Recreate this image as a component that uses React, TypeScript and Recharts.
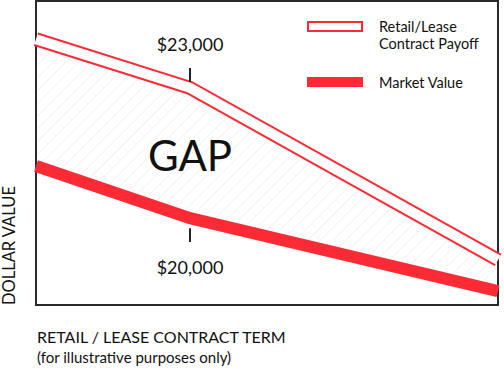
import React from "react";
import {
    Area,
    ComposedChart,
    Line,
    ReferenceArea,
    ReferenceDot,
    ReferenceLine,
    XAxis,
    YAxis,
} from "recharts";

const RED = "#fb2b36";
const FONT = "Lato, 'Open Sans', sans-serif";

// contract term (illustrative), dollar values
const terms = [0, 1, 3];
const payoff = [24120, 23000, 19040];
const marketValue = [21200, 20000, 18320];

const tickLabels = [
    { value: "$23,000", at: 24000, tick: [23140, 23460] },
    { value: "$20,000", at: 18850, tick: [19450, 19770] },
];

const data = terms.map((t, i) => ({
    term: t,
    payoff: payoff[i],
    market: marketValue[i],
    gap: [marketValue[i], payoff[i]],
}));

const LegendBox: React.FC = () => (
    <div style={{ position: "absolute", left: 307, top: 18, width: 190, fontFamily: FONT, fontSize: 14.5, color: "#111", lineHeight: "17px" }}>
        <div style={{ display: "flex", alignItems: "flex-start" }}>
            <div style={{ width: 52, height: 7, border: `2px solid ${RED}`, marginTop: 3, marginRight: 16 }} />
            <div>
                <div>Retail/Lease</div>
                <div>Contract Payoff</div>
            </div>
        </div>
        <div style={{ display: "flex", alignItems: "flex-start", marginTop: 22 }}>
            <div style={{ width: 56, height: 10, background: RED, marginTop: 3, marginRight: 16 }} />
            <div>Market Value</div>
        </div>
    </div>
);

const App: React.FC = () => {
    return (
        <div style={{ position: "absolute", left: 0, top: 0, width: 504, height: 371, background: "#fff" }}>
            <ComposedChart width={504} height={371} data={data} margin={{ top: 1, right: 6, bottom: 66, left: 36 }}>
                <defs>
                    <pattern id="hatch" width="9" height="9" patternUnits="userSpaceOnUse" patternTransform="rotate(45)">
                        <line x1="0" y1="0" x2="0" y2="9" stroke="#e8e8e8" strokeWidth={1} />
                    </pattern>
                </defs>
                <XAxis dataKey="term" type="number" domain={[0, 3]} hide />
                <YAxis type="number" domain={[18000, 25000]} hide />
                <Area
                    dataKey="gap"
                    type="linear"
                    stroke="none"
                    fill="url(#hatch)"
                    fillOpacity={1}
                    isAnimationActive={false}
                    activeDot={false}
                />
                <Line dataKey="payoff" type="linear" stroke={RED} strokeWidth={14} dot={false} activeDot={false} isAnimationActive={false} />
                <Line dataKey="payoff" type="linear" stroke="#fff" strokeWidth={10} dot={false} activeDot={false} isAnimationActive={false} />
                <Line dataKey="market" type="linear" stroke={RED} strokeWidth={12} dot={false} activeDot={false} isAnimationActive={false} />
                {tickLabels.map((t) => (
                    <ReferenceLine
                        key={t.value}
                        segment={[{ x: 1, y: t.tick[0] }, { x: 1, y: t.tick[1] }]}
                        stroke="#222"
                        strokeWidth={2}
                    />
                ))}
                {tickLabels.map((t) => (
                    <ReferenceDot
                        key={t.value + "l"}
                        x={1}
                        y={t.at}
                        r={0}
                        stroke="none"
                        label={{ value: t.value, position: "center", fontSize: 18, fill: "#111", fontFamily: FONT }}
                    />
                ))}
                <ReferenceDot
                    x={1}
                    y={21420}
                    r={0}
                    stroke="none"
                    label={{ value: "GAP", position: "center", fontSize: 42, fill: "#111", fontFamily: FONT }}
                />
                <ReferenceArea x1={0} x2={3} y1={18000} y2={25000} fill="none" stroke="#2a2a2a" strokeWidth={2} />
            </ComposedChart>
            <LegendBox />
            <div
                style={{
                    position: "absolute",
                    left: 0,
                    top: 305,
                    transform: "rotate(-90deg)",
                    transformOrigin: "0 0",
                    fontFamily: FONT,
                    fontSize: 16.5,
                    color: "#111",
                    whiteSpace: "nowrap",
                    lineHeight: "18px",
                }}
            >
                DOLLAR VALUE
            </div>
            <div style={{ position: "absolute", left: 37, top: 327, fontFamily: FONT, fontSize: 16, color: "#111", lineHeight: "20px", whiteSpace: "nowrap" }}>
                RETAIL / LEASE CONTRACT TERM
                <div style={{ fontSize: 15 }}>(for illustrative purposes only)</div>
            </div>
        </div>
    );
};

export default App;
